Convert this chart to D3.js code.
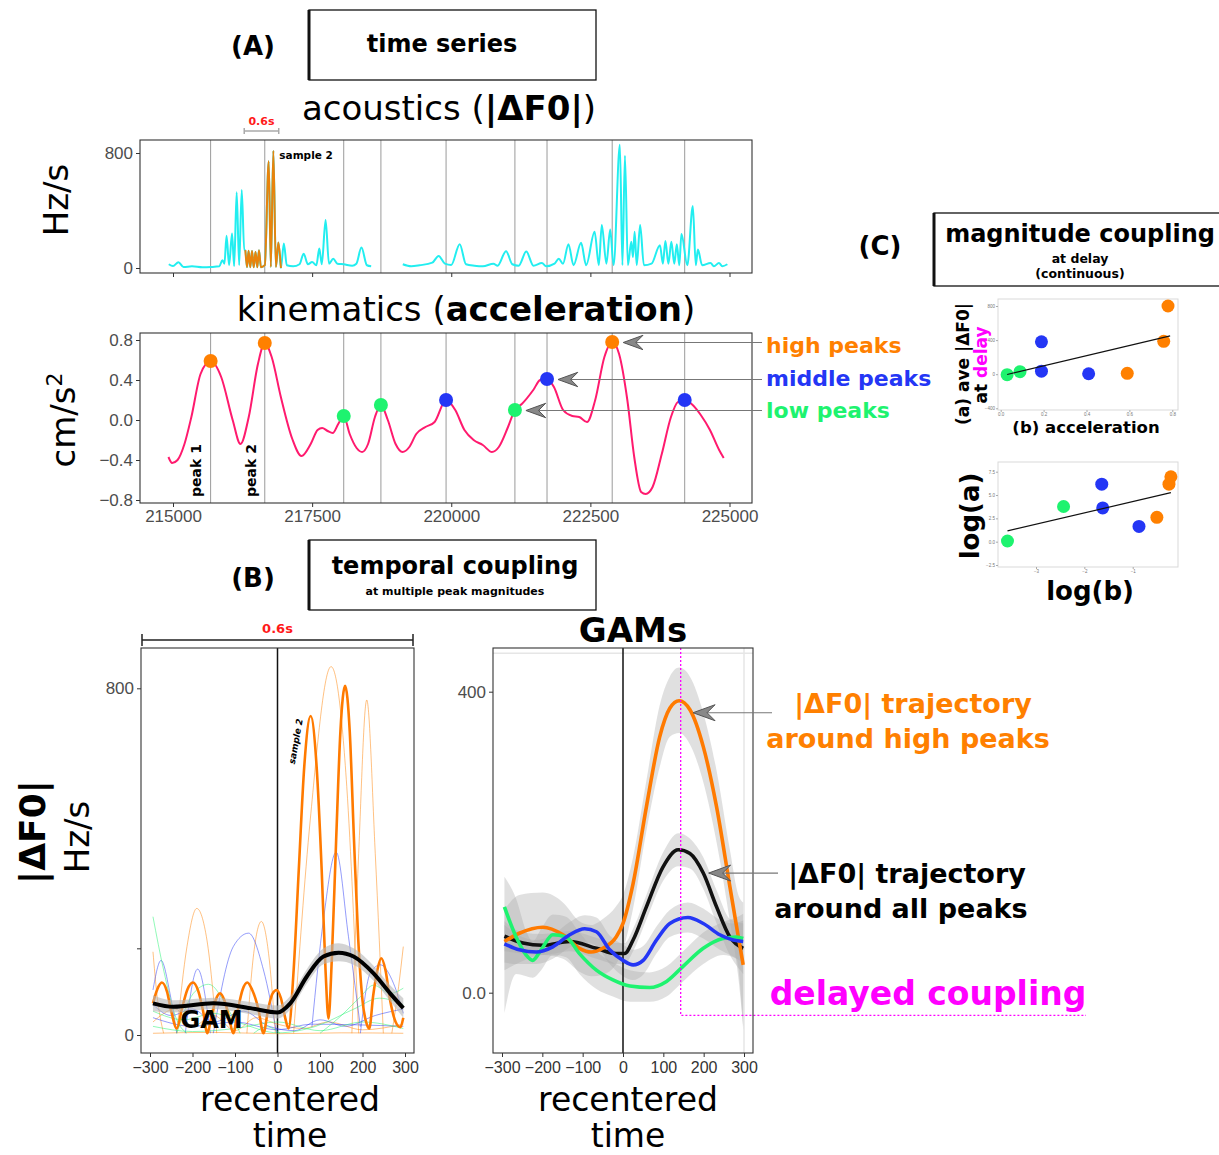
<!DOCTYPE html>
<html>
<head>
<meta charset="utf-8">
<script src="https://cdn.jsdelivr.net/npm/d3@7"></script>
<style>
  body { margin: 0; background: #fff; }
  svg { display: block; }
</style>
</head>
<body>
<div id="fig"></div>
<script>
// ---------- (A) time series ----------
// acoustics |dF0| (Hz/s) over time (ms), cyan trace, before / after the gap
const acousticPre = [[214924,26],[215000,14],[215098,40],[215189,7],[215341,12],[215530,5],[215682,7],[215833,12],
  [215886,54],[215924,30],[215962,224],[216008,19],[216061,240],[216099,12],[216144,527],[216189,19],[216235,543],[216280,124]];
// orange stretch around "sample 2"
const sample2Acoustic = [[216300,124],[216330,5],[216358,120],[216388,5],[216420,118],[216450,5],[216483,112],[216515,5],
  [216545,124],[216580,5],[216650,20],[216720,742],[216758,7],[216803,816],[216849,7],[216894,177],[216939,0]];
const acousticPost = [[216992,170],[217045,19],[217159,12],[217273,26],[217348,100],[217424,26],[217500,42],[217576,19],
  [217629,135],[217674,26],[217742,334],[217803,30],[217879,65],[217955,30],[218068,26],[218220,16],[218295,30],
  [218386,142],[218485,19],[218561,12]];
const acousticLate = [[219129,26],[219280,12],[219432,19],[219659,37],[219773,84],[219886,30],[220000,21],[220152,166],
  [220265,26],[220417,16],[220568,12],[220758,30],[220833,16],[220985,117],[221098,26],[221212,16],[221348,114],
  [221477,16],[221629,35],[221705,12],[221856,30],[221932,65],[222008,30],[222106,166],[222197,19],[222333,175],
  [222424,19],[222576,252],[222652,19],[222705,299],[222788,30],[222856,268],[222917,19],[223030,858],[223076,19],
  [223121,781],[223174,19],[223235,182],[223265,77],[223295,252],[223333,19],[223394,299],[223462,19],[223598,30],
  [223750,159],[223803,30],[223848,187],[223902,30],[223955,182],[224008,30],[224053,166],[224098,19],[224136,236],
  [224242,19],[224341,431],[224394,19],[224432,128],[224508,19],[224659,35],[224720,12],[224811,35],[224871,12],[224962,26]];

// kinematics: acceleration (cm/s^2)
const acceleration = [[214918,-0.37],[214984,-0.43],[215082,-0.40],[215206,-0.24],[215330,0.03],[215495,0.46],[215676,0.59],
  [215866,0.43],[216072,0.00],[216212,-0.24],[216361,0.03],[216526,0.56],[216649,0.77],[216773,0.63],[216938,0.23],
  [217144,-0.19],[217309,-0.36],[217474,-0.24],[217598,-0.10],[217680,-0.08],[217779,-0.11],[217870,-0.13],[217969,-0.04],
  [218068,0.04],[218175,-0.14],[218299,-0.28],[218398,-0.32],[218505,-0.24],[218629,0.03],[218736,0.15],[218860,0.00],
  [219000,-0.24],[219124,-0.32],[219247,-0.27],[219371,-0.14],[219536,-0.07],[219701,-0.02],[219907,0.20],[220072,0.10],
  [220237,-0.10],[220402,-0.20],[220567,-0.25],[220732,-0.32],[220855,-0.27],[221020,-0.07],[221144,0.10],[221268,0.16],
  [221474,0.30],[221598,0.40],[221721,0.41],[221845,0.33],[222010,0.10],[222175,0.04],[222299,0.03],[222439,-0.02],
  [222587,0.20],[222752,0.63],[222892,0.78],[223016,0.66],[223164,0.20],[223288,-0.37],[223412,-0.72],[223494,-0.74],
  [223618,-0.67],[223783,-0.34],[223948,0.03],[224072,0.18],[224195,0.20],[224319,0.16],[224484,0.05],[224649,-0.10],
  [224814,-0.30],[224896,-0.38]];

// detected acceleration peaks
const peakTimes = [215676, 216649, 218068, 218736, 219907, 221144, 221721, 222892, 224195];
const peakValues = [0.59, 0.77, 0.04, 0.15, 0.20, 0.10, 0.41, 0.78, 0.20];
const peakLevels = ["high", "high", "low", "low", "mid", "low", "mid", "high", "mid"];

const timeTicks = [215000, 217500, 220000, 222500, 225000];
const accelTicks = [-0.8, -0.4, 0, 0.4, 0.8];

// ---------- (B) temporal coupling ----------
const recenteredTicks = [-300, -200, -100, 0, 100, 200, 300];

// thick orange: sample 2 recentered
const sample2Recentered = [[-293,73],[-283,105],[-272,121],[-260,100],[-250,55],[-237,15],[-225,60],[-212,105],[-199,121],
  [-186,100],[-175,55],[-165,4],[-155,45],[-145,82],[-135,96],[-125,80],[-115,45],[-104,4],[-93,60],[-82,105],[-71,121],
  [-60,105],[-45,60],[-33,4],[-22,60],[-12,95],[-2,104],[8,85],[18,40],[26,15],[38,150],[50,380],[63,620],[78,736],
  [92,620],[104,380],[113,150],[120,38],[128,180],[138,450],[148,700],[159,806],[170,700],[180,450],[190,220],[200,80],
  [210,25],[216,15],[225,90],[235,150],[244,177],[254,150],[265,80],[278,30],[289,18],[296,40]];

// thin single trajectories around the other peaks
const thinHigh = [
  [[-293,192],[-284,96],[-268,4]],
  [[-237,4],[-213,204],[-190,292],[-166,219],[-143,4]],
  [[-72,4],[-56,188],[-38,262],[-21,188],[-5,4]],
  [[38,4],[77,496],[126,850],[163,573],[191,4]],
  [[175,4],[191,419],[210,773],[230,419],[249,4]],
  [[269,4],[285,112],[296,204]],
  [[-293,4],[-150,6],[0,3],[150,5],[296,4]],
  [[-293,30],[-240,60],[-200,20],[-150,45],[-100,10],[-50,40],[0,25],[60,15],[120,30],[200,12],[296,25]]
];
const thinMid = [
  [[-293,104],[-274,172],[-253,96],[-237,4]],
  [[-217,4],[-188,152],[-158,4]],
  [[-151,4],[-104,204],[-68,235],[-33,150],[-2,4]],
  [[81,19],[108,265],[138,422],[167,227],[195,19]],
  [[195,4],[218,142],[242,162],[273,119],[296,50]],
  [[-293,40],[-200,20],[-100,30],[0,12],[80,25],[296,20]],
  [[-293,70],[-250,45],[-200,60],[-150,30],[-80,55],[-20,20],[40,10],[100,35],[160,20],[230,45],[296,60]]
];
const thinLow = [
  [[-293,273],[-268,150],[-237,35],[-213,4]],
  [[-237,4],[-198,96],[-162,117],[-119,65],[-88,4]],
  [[-56,4],[-25,19],[6,4]],
  [[100,4],[147,42],[195,88],[226,115],[265,96],[296,108]],
  [[-293,20],[-200,8],[-100,15],[0,30],[100,10],[200,30],[296,15]],
  [[-293,55],[-220,35],[-150,50],[-80,25],[0,5],[90,20],[180,60],[240,85],[296,70]]
];

// GAM over all peaks (left) : [t, fit] and ribbon [t, lo, hi]
const gamAllLeft = [[-293,73],[-245,65],[-151,73],[-64,62],[0,52],[30,73],[69,135],[108,181],[144,190],[179,181],[226,142],[265,96],[296,62]];
const gamAllLeftBand = [[-293,55,92],[-245,52,80],[-151,60,86],[-64,48,76],[0,38,68],[30,58,90],[69,118,152],[108,163,200],
  [144,170,212],[179,162,200],[226,125,160],[265,78,115],[296,40,85]];

// GAMs per peak magnitude (right)
const gamHigh = [[-294,68],[-257,79],[-199,87],[-149,77],[-108,59],[-79,54],[-50,59],[-17,74],[0,92],[25,145],[58,247],
  [91,340],[116,378],[139,388],[166,376],[199,327],[232,247],[265,141],[286,74],[298,37]];
const gamHighBand = [[-294,30,110],[-257,40,130],[-199,50,133],[-149,45,120],[-108,28,95],[-79,22,90],[-50,24,98],[-17,38,115],
  [0,58,130],[25,112,180],[58,215,282],[91,300,382],[116,340,420],[139,345,432],[166,330,420],[199,280,372],[232,200,295],
  [265,95,190],[286,20,130],[298,-45,120]];
const gamAll = [[-294,75],[-248,66],[-199,63],[-132,68],[-66,59],[-17,52],[4,52],[25,70],[58,114],[99,167],[137,190],
  [166,185],[199,159],[232,114],[265,74],[298,59]];
const gamAllBand = [[-294,55,95],[-248,52,80],[-199,50,78],[-132,55,82],[-66,45,73],[-17,38,66],[4,38,66],[25,55,85],
  [58,97,130],[99,148,186],[137,168,212],[166,165,205],[199,138,180],[232,92,136],[265,50,98],[298,25,92]];
const gamMid = [[-294,65],[-257,57],[-215,54],[-174,61],[-132,77],[-95,85],[-66,81],[-33,57],[0,43],[25,37],[50,43],
  [83,70],[116,92],[161,100],[199,92],[240,77],[273,70],[298,68]];
const gamMidBand = [[-294,40,90],[-257,38,76],[-215,38,70],[-174,45,77],[-132,60,94],[-95,67,103],[-66,62,100],[-33,38,76],
  [0,22,64],[25,17,57],[50,24,62],[83,52,88],[116,74,110],[161,80,120],[199,72,112],[240,57,97],[273,48,92],[298,40,96]];
const gamLow = [[-294,114],[-265,74],[-240,50],[-224,43],[-203,57],[-174,77],[-141,74],[-108,52],[-66,30],[-25,17],
  [17,9],[66,7],[108,15],[149,35],[199,59],[248,72],[281,74],[298,72]];
const gamLowBand = [[-294,-27,154],[-265,25,125],[-240,22,82],[-224,20,68],[-203,30,85],[-174,50,104],[-141,47,101],
  [-108,25,80],[-66,5,55],[-25,-5,40],[17,-12,30],[66,-12,27],[108,-5,35],[149,15,55],[199,38,80],[248,50,94],[281,45,100],[298,-50,105]];
const delayPeak = 143;      // ms, magenta marker
const delayFloor = -30;     // Hz/s level of the dotted guide

// ---------- (C) magnitude coupling ----------
const peakAccel = [0.03, 0.09, 0.19, 0.19, 0.41, 0.59, 0.76, 0.78];
const aveF0Delay = [-5, 30, 380, 35, 5, 10, 386, 800];
const scatterLevels = ["low", "low", "mid", "mid", "mid", "high", "high", "high"];
const fitLinear = [[0.03, -4], [0.79, 449]];
const logAccel = [-3.59, -2.43, -1.64, -1.62, -0.87, -0.50, -0.25, -0.21];
const logF0 = [0.07, 3.77, 6.16, 3.62, 1.63, 2.61, 6.16, 6.96];
const fitLog = [[-3.59, 1.16], [-0.21, 5.25]];

// ---------- drawing ----------
const SANS = "'DejaVu Sans', Verdana, sans-serif";
const TICK = "'Liberation Sans', Arial, sans-serif";
const levelColor = { high: "#ff8000", mid: "#2436f5", low: "#1ef36f" };
const CYAN = "#22eef0", PINK = "#ff1a6e", MAGENTA = "#ff00ff";

const svg = d3.select("#fig").append("svg").attr("width", 1219).attr("height", 1155);

function txt(x, y, s, size, o = {}) {
  return svg.append("text")
    .attr("transform", `translate(${x},${y})` + (o.rotate ? ` rotate(${o.rotate})` : ""))
    .attr("text-anchor", o.anchor || "middle")
    .style("font-family", o.family || SANS)
    .style("font-size", size + "px")
    .style("font-weight", o.weight || "normal")
    .attr("fill", o.fill || "#000")
    .text(s);
}

function titleBox(x, y, w, h) {
  svg.append("rect").attr("x", x).attr("y", y).attr("width", w).attr("height", h)
    .attr("fill", "none").attr("stroke", "#111").attr("stroke-width", 1.3);
  svg.append("line").attr("x1", x).attr("x2", x).attr("y1", y).attr("y2", y + h)
    .attr("stroke", "#111").attr("stroke-width", 3);
}

function frame(x0, x1, y0, y1, color = "#333") {
  svg.append("rect").attr("x", x0).attr("y", y0).attr("width", x1 - x0).attr("height", y1 - y0)
    .attr("fill", "none").attr("stroke", color).attr("stroke-width", 1.1);
}

function styleAxis(g, size, color = "#4d4d4d", tickColor = "#333") {
  g.select(".domain").remove();
  g.selectAll(".tick line").attr("stroke", tickColor);
  g.selectAll(".tick text").attr("fill", color).style("font-family", TICK).style("font-size", size + "px");
}

function arrowHead(tx, ty, scale = 1) {
  const s = scale;
  svg.append("path")
    .attr("d", `M${tx},${ty} L${tx + 22 * s},${ty - 8 * s} L${tx + 14 * s},${ty} L${tx + 22 * s},${ty + 8 * s} Z`)
    .attr("fill", "#888").attr("stroke", "#555").attr("stroke-width", 1);
}

// header (A)
txt(253, 55, "(A)", 26, { weight: "bold" });
titleBox(309, 10, 287, 70);
txt(442, 52, "time series", 24, { weight: "bold" });

const acTitle = txt(449, 120, "acoustics (", 34);
acTitle.append("tspan").style("font-weight", "bold").text("|ΔF0|");
acTitle.append("tspan").text(")");

// acoustics panel
const xT = d3.scaleLinear().domain([215000, 225000]).range([173, 729.5]);
const yAc = d3.scaleLinear().domain([0, 800]).range([268, 153]);
const topBox = { x0: 140, x1: 752, y0: 140, y1: 273 };

svg.append("g").selectAll("line").data(peakTimes).join("line")
  .attr("x1", d => xT(d)).attr("x2", d => xT(d)).attr("y1", topBox.y0).attr("y2", topBox.y1)
  .attr("stroke", "#9a9a9a").attr("stroke-width", 1);

const acLine = d3.line().x(d => xT(d[0])).y(d => yAc(d[1])).curve(d3.curveMonotoneX);
svg.append("path").datum(acousticPre.concat(sample2Acoustic, acousticPost)).attr("d", acLine)
  .attr("fill", "none").attr("stroke", CYAN).attr("stroke-width", 2);
svg.append("path").datum(acousticLate).attr("d", acLine)
  .attr("fill", "none").attr("stroke", CYAN).attr("stroke-width", 2);
svg.append("path").datum(sample2Acoustic).attr("d", acLine)
  .attr("fill", "none").attr("stroke", "#e8830c").attr("stroke-width", 2);
frame(topBox.x0, topBox.x1, topBox.y0, topBox.y1);

svg.append("g").attr("transform", `translate(${topBox.x0},0)`)
  .call(d3.axisLeft(yAc).tickValues([0, 800]).tickSize(4).tickPadding(3))
  .call(g => styleAxis(g, 17));
svg.append("g").attr("transform", `translate(0,${topBox.y1})`)
  .call(d3.axisBottom(xT).tickValues(timeTicks).tickSize(4).tickFormat(""))
  .call(g => styleAxis(g, 17));
txt(68, 200, "Hz/s", 34, { rotate: -90 });

// 0.6s window marker and sample label
const win0 = sample2Acoustic[0][0] - 20, win1 = sample2Acoustic[0][0] + 600;
svg.append("path")
  .attr("d", `M${xT(win0)},128 V134 M${xT(win0)},131 H${xT(win1)} M${xT(win1)},128 V134`)
  .attr("stroke", "#aaa").attr("stroke-width", 1.5).attr("fill", "none");
txt((xT(win0) + xT(win1)) / 2, 125, "0.6s", 11, { weight: "bold", fill: "#ff1a1a" });
txt(xT(216803) + 6, 159, "sample 2", 10.5, { weight: "bold", anchor: "start" });

// kinematics
const kinTitle = txt(466, 321, "kinematics (", 34);
kinTitle.append("tspan").style("font-weight", "bold").text("acceleration");
kinTitle.append("tspan").text(")");

const yKin = d3.scaleLinear().domain([-0.8, 0.8]).range([500, 340]);
const kinBox = { x0: 140, x1: 752, y0: 333, y1: 503 };

svg.append("g").selectAll("line").data(peakTimes).join("line")
  .attr("x1", d => xT(d)).attr("x2", d => xT(d)).attr("y1", kinBox.y0).attr("y2", kinBox.y1)
  .attr("stroke", "#9a9a9a").attr("stroke-width", 1);

svg.append("path").datum(acceleration)
  .attr("d", d3.line().x(d => xT(d[0])).y(d => yKin(d[1])).curve(d3.curveMonotoneX))
  .attr("fill", "none").attr("stroke", PINK).attr("stroke-width", 2);

svg.append("g").selectAll("circle").data(peakTimes).join("circle")
  .attr("cx", d => xT(d)).attr("cy", (d, i) => yKin(peakValues[i])).attr("r", 7)
  .attr("fill", (d, i) => levelColor[peakLevels[i]]);

frame(kinBox.x0, kinBox.x1, kinBox.y0, kinBox.y1);
svg.append("g").attr("transform", `translate(${kinBox.x0},0)`)
  .call(d3.axisLeft(yKin).tickValues(accelTicks).tickSize(4).tickPadding(3).tickFormat(d3.format(".1f")))
  .call(g => styleAxis(g, 17));
svg.append("g").attr("transform", `translate(0,${kinBox.y1})`)
  .call(d3.axisBottom(xT).tickValues(timeTicks).tickSize(4).tickPadding(3).tickFormat(d3.format("d")))
  .call(g => styleAxis(g, 17));

const cmLab = txt(75, 420, "cm/s", 34, { rotate: -90 });
cmLab.append("tspan").attr("dy", -13).style("font-size", "22px").text("2");

txt(xT(peakTimes[0]) - 10, 497, "peak 1", 14, { rotate: -90, anchor: "start", weight: "bold" });
txt(xT(peakTimes[1]) - 9, 497, "peak 2", 14, { rotate: -90, anchor: "start", weight: "bold" });

// peak legend with arrows
const legendRows = [
  { level: "high", label: "high peaks", idx: 7, ty: 353 },
  { level: "mid", label: "middle peaks", idx: 6, ty: 386 },
  { level: "low", label: "low peaks", idx: 5, ty: 418 }
];
legendRows.forEach(r => {
  const tipX = xT(peakTimes[r.idx]) + 11;
  const tipY = yKin(peakValues[r.idx]) + 0.5;
  svg.append("line").attr("x1", tipX + 10).attr("x2", 762).attr("y1", tipY).attr("y2", tipY)
    .attr("stroke", "#777").attr("stroke-width", 1.2);
  arrowHead(tipX, tipY, 0.9);
  txt(766, r.ty, r.label, 22, { anchor: "start", weight: "bold", fill: levelColor[r.level] });
});

// header (B)
txt(253, 587, "(B)", 26, { weight: "bold" });
titleBox(309, 540, 287, 70);
txt(455, 574, "temporal coupling", 24, { weight: "bold" });
txt(455, 595, "at multiple peak magnitudes", 11, { weight: "bold" });

// left: single trajectories + GAM
const xL = d3.scaleLinear().domain([-300, 300]).range([150, 405]);
const yL = d3.scaleLinear().domain([0, 800]).range([1035, 688.3]);
const leftBox = { x0: 141, x1: 414, y0: 648, y1: 1053 };
const lineL = d3.line().x(d => xL(d[0])).y(d => yL(d[1])).curve(d3.curveMonotoneX);

svg.append("path")
  .attr("d", `M${leftBox.x0 + 1},634 V646 M${leftBox.x0 + 1},640 H${leftBox.x1 - 1} M${leftBox.x1 - 1},634 V646`)
  .attr("stroke", "#222").attr("stroke-width", 1.5).attr("fill", "none");
txt((leftBox.x0 + leftBox.x1) / 2, 633, "0.6s", 13, { weight: "bold", fill: "#ff1a1a" });

svg.append("line").attr("x1", xL(0)).attr("x2", xL(0)).attr("y1", leftBox.y0).attr("y2", leftBox.y1)
  .attr("stroke", "#111").attr("stroke-width", 1.5);

[[thinHigh, levelColor.high], [thinMid, levelColor.mid], [thinLow, levelColor.low]].forEach(([set, col]) => {
  svg.append("g").selectAll("path").data(set).join("path").attr("d", lineL)
    .attr("fill", "none").attr("stroke", col).attr("stroke-width", 0.9).attr("opacity", 0.55);
});
svg.append("path").datum(sample2Recentered).attr("d", lineL)
  .attr("fill", "none").attr("stroke", "#ff7a00").attr("stroke-width", 2.6);

svg.append("path").datum(gamAllLeftBand)
  .attr("d", d3.area().x(d => xL(d[0])).y0(d => yL(d[1])).y1(d => yL(d[2])).curve(d3.curveMonotoneX))
  .attr("fill", "#b5b5b5").attr("opacity", 0.6);
svg.append("path").datum(gamAllLeft).attr("d", lineL)
  .attr("fill", "none").attr("stroke", "#000").attr("stroke-width", 4);

frame(leftBox.x0, leftBox.x1, leftBox.y0, leftBox.y1);
svg.append("g").attr("transform", `translate(${leftBox.x0},0)`)
  .call(d3.axisLeft(yL).tickValues([0, 200, 800]).tickSize(4).tickPadding(3).tickFormat(d => d === 200 ? "" : d))
  .call(g => styleAxis(g, 17));
svg.append("g").attr("transform", `translate(0,${leftBox.y1})`)
  .call(d3.axisBottom(xL).tickValues(recenteredTicks).tickSize(4).tickPadding(5))
  .call(g => styleAxis(g, 16, "#333"));

txt(xL(-155), 1028, "GAM", 24, { weight: "bold" });
txt(xL(50), 742, "sample 2", 9, { rotate: -80, weight: "bold", family: SANS }).style("font-style", "italic");

txt(45, 832, "|ΔF0|", 36, { rotate: -90, weight: "bold" });
txt(89, 837, "Hz/s", 34, { rotate: -90 });
txt(290, 1111, "recentered", 33);
txt(290, 1147, "time", 33);

// right: GAMs
const xR = d3.scaleLinear().domain([-300, 300]).range([502, 744]);
const yR = d3.scaleLinear().domain([0, 400]).range([992.7, 691.7]);
const rightBox = { x0: 493, x1: 753, y0: 648, y1: 1053 };
const lineR = d3.line().x(d => xR(d[0])).y(d => yR(d[1])).curve(d3.curveMonotoneX);
const bandR = d3.area().x(d => xR(d[0])).y0(d => yR(d[1])).y1(d => yR(d[2])).curve(d3.curveMonotoneX);

txt(633, 642, "GAMs", 34, { weight: "bold" });

// faint grid at panel limits
svg.append("line").attr("x1", rightBox.x0).attr("x2", rightBox.x1).attr("y1", yR(451)).attr("y2", yR(451))
  .attr("stroke", "#e6e6e6").attr("stroke-width", 1.5);
svg.append("line").attr("x1", xR(300)).attr("x2", xR(300)).attr("y1", rightBox.y0).attr("y2", rightBox.y1)
  .attr("stroke", "#e6e6e6").attr("stroke-width", 1.5);

[gamLowBand, gamHighBand, gamMidBand, gamAllBand].forEach(b => {
  svg.append("path").datum(b).attr("d", bandR).attr("fill", "#a8a8a8").attr("opacity", 0.36);
});

svg.append("line").attr("x1", xR(0)).attr("x2", xR(0)).attr("y1", rightBox.y0).attr("y2", rightBox.y1)
  .attr("stroke", "#111").attr("stroke-width", 1.5);

[[gamAll, "#111"], [gamHigh, "#ff7a00"], [gamLow, "#1ef36f"], [gamMid, "#2436f5"]].forEach(([d, col]) => {
  svg.append("path").datum(d).attr("d", lineR).attr("fill", "none").attr("stroke", col).attr("stroke-width", 3.6);
});

// magenta delay guide
svg.append("path")
  .attr("d", `M${xR(delayPeak)},${rightBox.y0} V${yR(delayFloor)} H1086`)
  .attr("fill", "none").attr("stroke", MAGENTA).attr("stroke-width", 1.3).attr("stroke-dasharray", "2,2");

frame(rightBox.x0, rightBox.x1, rightBox.y0, rightBox.y1);
svg.append("g").attr("transform", `translate(${rightBox.x0},0)`)
  .call(d3.axisLeft(yR).tickValues([0, 400]).tickSize(4).tickPadding(3).tickFormat(d => d === 0 ? "0.0" : d))
  .call(g => styleAxis(g, 17));
svg.append("g").attr("transform", `translate(0,${rightBox.y1})`)
  .call(d3.axisBottom(xR).tickValues(recenteredTicks).tickSize(4).tickPadding(5))
  .call(g => styleAxis(g, 16, "#333"));

txt(628, 1111, "recentered", 33);
txt(628, 1147, "time", 33);

// annotations
const hiTipX = xR(139) + 14, hiTipY = yR(388) + 12;
svg.append("line").attr("x1", hiTipX + 10).attr("x2", 772).attr("y1", hiTipY).attr("y2", hiTipY)
  .attr("stroke", "#777").attr("stroke-width", 1.2);
arrowHead(hiTipX, hiTipY, 1);
txt(913, 713, "|ΔF0| trajectory", 27, { weight: "bold", fill: "#ff8000" });
txt(908, 748, "around high peaks", 27, { weight: "bold", fill: "#ff8000" });

const allTipX = xR(190) + 9, allTipY = yR(159);
svg.append("line").attr("x1", allTipX + 10).attr("x2", 778).attr("y1", allTipY).attr("y2", allTipY)
  .attr("stroke", "#777").attr("stroke-width", 1.2);
arrowHead(allTipX, allTipY, 1);
txt(907, 883, "|ΔF0| trajectory", 27, { weight: "bold" });
txt(901, 918, "around all peaks", 27, { weight: "bold" });

txt(928, 1005, "delayed coupling", 33, { weight: "bold", fill: MAGENTA });

// header (C)
txt(880, 255, "(C)", 26, { weight: "bold" });
titleBox(934, 213, 300, 73);
txt(1080, 242, "magnitude coupling", 24, { weight: "bold" });
txt(1080, 263, "at delay", 12.5, { weight: "bold" });
txt(1080, 278, "(continuous)", 12.5, { weight: "bold" });

function scatter(xs, ys, xVals, yVals, fit, box, xTicks, yTicks, xFmt, yFmt) {
  svg.append("rect").attr("x", box.x0).attr("y", box.y0).attr("width", box.x1 - box.x0).attr("height", box.y1 - box.y0)
    .attr("fill", "#fff").attr("stroke", "#d9d9d9").attr("stroke-width", 1);
  svg.append("g").attr("transform", `translate(${box.x0},0)`)
    .call(d3.axisLeft(ys).tickValues(yTicks).tickSize(2).tickPadding(1).tickFormat(yFmt))
    .call(g => styleAxis(g, 4.5, "#777", "#aaa"));
  svg.append("g").attr("transform", `translate(0,${box.y1})`)
    .call(d3.axisBottom(xs).tickValues(xTicks).tickSize(2).tickPadding(1).tickFormat(xFmt))
    .call(g => styleAxis(g, 4.5, "#777", "#aaa"));
  svg.append("g").selectAll("circle").data(xVals).join("circle")
    .attr("cx", d => xs(d)).attr("cy", (d, i) => ys(yVals[i])).attr("r", 6.5)
    .attr("fill", (d, i) => levelColor[scatterLevels[i]]);
  svg.append("line").attr("x1", xs(fit[0][0])).attr("y1", ys(fit[0][1]))
    .attr("x2", xs(fit[1][0])).attr("y2", ys(fit[1][1])).attr("stroke", "#111").attr("stroke-width", 1.2);
}

const xS1 = d3.scaleLinear().domain([0, 0.8]).range([1000.7, 1172.3]);
const yS1 = d3.scaleLinear().domain([-400, 800]).range([408.3, 306]);
scatter(xS1, yS1, peakAccel, aveF0Delay, fitLinear, { x0: 998, x1: 1178, y0: 299, y1: 410 },
  [0, 0.2, 0.4, 0.6, 0.8], [-400, 0, 400, 800], d3.format(".1f"), d3.format("d"));

txt(969, 364, "(a) ave |ΔF0|", 17, { rotate: -90, weight: "bold" });
const atLab = txt(987, 365, "at ", 17, { rotate: -90, weight: "bold" });
atLab.append("tspan").attr("fill", MAGENTA).text("delay");
txt(1086, 433, "(b) acceleration", 16.5, { weight: "bold" });

const xS2 = d3.scaleLinear().domain([-3, -1]).range([1036, 1132.7]);
const yS2 = d3.scaleLinear().domain([-2.5, 7.5]).range([565, 471.7]);
scatter(xS2, yS2, logAccel, logF0, fitLog, { x0: 998, x1: 1178, y0: 462, y1: 567 },
  [-3, -2, -1], [-2.5, 0, 2.5, 5, 7.5], d3.format("d"), d3.format(".1f"));

txt(979, 516, "log(a)", 26, { rotate: -90, weight: "bold" });
txt(1090, 600, "log(b)", 26, { weight: "bold" });
</script>
</body>
</html>
